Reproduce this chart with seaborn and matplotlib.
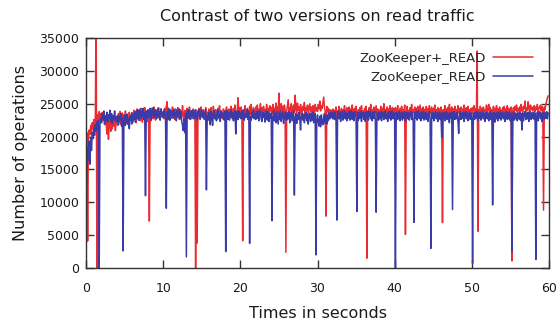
import numpy as np
import pandas as pd
import matplotlib
matplotlib.use('Agg')
import matplotlib.pyplot as plt
import seaborn as sns

# Leituras a cada 0,1 s (estimadas a partir da figura original)
PERIODO_AMOSTRA = 0.1

zk_plus_read = [
    19200, 20600, 4100, 19600, 21000, 20300, 21700, 20500, 22100, 21200, 22600, 21400, 22900, 40000, 0, 23300, 22000, 23800, 22400, 23500,
    22200, 23700, 22500, 23900, 21800, 23200, 22100, 20400, 22600, 19600, 21900, 22800, 20800, 22300, 21200, 23000, 21600, 22700, 20900, 22400,
    23100, 21700, 23500, 22200, 23800, 21900, 22900, 23600, 21500, 23300, 22400, 23900, 22000, 23400, 22700, 21800, 23700, 22500, 23200, 21900,
    23600, 22300, 24000, 22800, 23300, 22100, 24200, 23000, 22600, 23900, 22400, 24300, 23100, 22200, 23800, 22900, 24400, 22700, 23500, 22300,
    24100, 22900, 7150, 23600, 22400, 24300, 23100, 22700, 24500, 23300, 22500, 24000, 23700, 22800, 24400, 23000, 22600, 24200, 23400, 22900,
    23800, 22700, 24300, 23100, 24600, 25300, 22900, 23900, 22500, 24100, 23300, 22800, 24500, 23000, 23700, 22600, 24200, 23400, 22900, 24400,
    23200, 22600, 24100, 23500, 22900, 24700, 23300, 22700, 24000, 23600, 22500, 24300, 23100, 22800, 24500, 23400, 22700, 23900, 23200, 24200,
    22900, 24000, 0, 23400, 3800, 22800, 24300, 23100, 22600, 24500, 23500, 22900, 24100, 23300, 22700, 24400, 23000, 23700, 22500, 24200,
    23600, 22800, 24400, 23100, 22700, 24600, 23300, 22900, 24100, 23500, 22600, 24300, 23200, 24700, 22800, 23900, 23400, 22700, 24200, 23100,
    24000, 22900, 24500, 23300, 22800, 24200, 23700, 23000, 24600, 23400, 22700, 24300, 23100, 24800, 23500, 22900, 24100, 25900, 23600, 24400,
    23200, 24500, 23600, 4150, 24100, 22900, 24700, 23500, 23000, 24300, 23800, 22800, 24600, 23300, 24900, 23600, 23100, 24400, 23700, 23200,
    24500, 23400, 24800, 23100, 24200, 23700, 25000, 23300, 24400, 22900, 24600, 23800, 24100, 23300, 24900, 23600, 24300, 23000, 24700, 23900,
    24400, 23500, 24900, 23700, 24300, 23200, 25100, 23800, 24500, 23400, 26600, 24000, 23600, 25000, 23900, 24600, 23300, 24800, 24100, 2400,
    23800, 24700, 25600, 23600, 24400, 23900, 25000, 23500, 24300, 24800, 23700, 26300, 24200, 23600, 25100, 24000, 24500, 23400, 24900, 24100,
    23700, 24600, 24000, 25200, 23500, 24400, 23900, 24800, 23600, 24300, 25000, 23800, 24500, 23400, 24700, 24100, 23600, 24900, 23900, 24400,
    23800, 24900, 24200, 25400, 23900, 24700, 24300, 25100, 26000, 24400, 23900, 7900, 24600, 23800, 24300, 23400, 24100, 23200, 24000, 23500,
    24200, 22900, 24000, 23300, 24500, 22800, 23900, 23400, 24600, 23100, 23700, 24300, 22900, 24100, 23500, 24700, 23000, 23800, 24400, 23200,
    23600, 24500, 23000, 24200, 23300, 24800, 22900, 23900, 24300, 23100, 24600, 23500, 22800, 24100, 23700, 24400, 23000, 24700, 23400, 23900,
    23200, 24300, 23600, 24600, 1500, 23800, 23000, 24400, 23500, 24900, 22900, 24100, 23700, 24500, 23100, 23900, 24700, 23300, 24200, 22800,
    24000, 23400, 24600, 23100, 24300, 23700, 25000, 23200, 24100, 23600, 24500, 22900, 24200, 23800, 24700, 23300, 23900, 24400, 23000, 24300,
    23500, 24400, 23100, 24000, 24700, 23300, 23800, 24300, 23000, 24600, 23600, 24100, 23200, 24800, 5100, 23700, 24600, 23400, 24000, 23100,
    24400, 23600, 24900, 23200, 24100, 23700, 24500, 23000, 24300, 23800, 24600, 23300, 24000, 24800, 23400, 24200, 23100, 24500, 23700, 24100,
    23300, 24600, 23800, 24200, 23100, 24700, 23500, 24000, 24500, 23200, 24300, 23900, 24800, 23400, 24100, 23600, 24400, 23000, 24200, 23700,
    24500, 23500, 6900, 24100, 23400, 24700, 23800, 24200, 23100, 24400, 23600, 24900, 23300, 24000, 24500, 23700, 24200, 23200, 24600, 23800,
    24100, 23400, 24700, 23600, 24300, 23100, 24500, 23900, 24200, 23300, 24800, 23700, 24000, 24400, 23200, 24600, 23800, 24100, 23500, 24300,
    23600, 24400, 23900, 24700, 23300, 24200, 23800, 33000, 5600, 24100, 23500, 24600, 23800, 24300, 23200, 24500, 23900, 24100, 23400, 24800,
    23700, 24200, 24900, 23500, 24400, 23800, 24100, 23300, 24600, 23900, 24300, 23400, 24700, 23700, 24200, 23200, 24500, 23900, 24000, 23600,
    24400, 23800, 24600, 23500, 24200, 23900, 24700, 23400, 24300, 24000, 23600, 24500, 1100, 23800, 24400, 23300, 24600, 24000, 24800, 23700,
    24300, 23900, 24500, 23600, 24900, 24100, 23700, 24600, 24200, 25400, 23800, 24400, 24000, 25300, 24300, 23700, 24800, 24100, 24500, 23900,
    24200, 24700, 23800, 24500, 24100, 24900, 23700, 24400, 24300, 24800, 23900, 24600, 24200, 8800, 24500, 24100, 24900, 25400, 25900, 26200,
]

zk_read = [
    700, 15200, 18300, 16400, 19300, 15800, 19900, 17900, 20600, 19700, 21300, 20200, 21800, 20800, 22200, 21100, 22500, 0, 21900, 22800,
    22100, 23400, 22600, 23800, 21900, 23100, 22400, 23700, 22200, 23300, 22800, 24000, 22300, 23500, 22000, 23200, 22700, 23900, 22400, 23000,
    22300, 23200, 21800, 23000, 22600, 23500, 21600, 22900, 2600, 22200, 23300, 21700, 22800, 23400, 21900, 22700, 21200, 23100, 22500, 23600,
    22000, 23300, 22600, 23700, 22200, 23900, 22800, 24100, 22500, 23400, 24200, 22700, 23800, 23100, 24300, 22600, 23600, 11000, 23900, 22900,
    24000, 22800, 23700, 24300, 22600, 23900, 23200, 24400, 22900, 23600, 24100, 22700, 23500, 24300, 23000, 23800, 22500, 24200, 23300, 23700,
    22900, 24100, 23400, 22700, 9100, 23800, 22600, 24300, 23200, 22500, 24000, 23300, 23800, 22800, 24200, 23100, 23600, 22400, 24100, 23500,
    23000, 24200, 22700, 23800, 22300, 21700, 20900, 22600, 20600, 23500, 1700, 23900, 22800, 24100, 23200, 22600, 23900, 23100, 24000, 22700,
    23700, 22800, 24100, 23000, 22500, 23900, 23300, 24200, 22700, 23500, 24000, 22900, 23800, 22600, 23400, 24100, 11900, 23200, 22500, 23700,
    23400, 21800, 23900, 22900, 21700, 23600, 24000, 22700, 23300, 22400, 23800, 24100, 22800, 23500, 22300, 23900, 22900, 23600, 23200, 22500,
    23800, 2500, 23000, 24000, 22600, 23700, 22500, 23300, 24100, 22800, 23600, 22400, 23500, 23900, 20400, 23100, 23800, 22600, 23900, 22900,
    23600, 22700, 23900, 22800, 24000, 22500, 23400, 22900, 23700, 24100, 22600, 23800, 3750, 23000, 22500, 23700, 22900, 24000, 22700, 23500,
    22600, 23800, 22800, 23900, 22400, 23500, 24000, 22700, 22300, 23700, 22900, 23600, 22200, 23900, 23000, 22500, 23800, 22300, 23500, 22800,
    23600, 7200, 22900, 23900, 22400, 23500, 22100, 23800, 22800, 21900, 23600, 22600, 23900, 22300, 23400, 23800, 22000, 23500, 22700, 23700,
    22500, 23600, 22700, 23800, 22100, 23400, 23700, 22400, 23200, 23900, 11100, 22800, 23500, 22000, 23400, 22600, 23700, 22800, 21000, 23300,
    23600, 22500, 23400, 22100, 23300, 23700, 22400, 23500, 21900, 23200, 23600, 22300, 23400, 22500, 23700, 22100, 23200, 23500, 2000, 22600,
    23300, 22200, 21600, 23100, 21500, 23300, 22100, 21800, 22900, 23500, 22000, 23200, 21900, 23300, 22400, 23600, 22700, 23700, 22900, 23600,
    22700, 23800, 22600, 23700, 22400, 7300, 23500, 23900, 22700, 23700, 22300, 23500, 23800, 22500, 23400, 23900, 22700, 23600, 22400, 23500,
    22800, 23800, 22500, 23600, 23900, 22600, 23700, 22400, 23500, 23800, 22700, 8600, 23600, 22500, 23700, 22800, 23800, 22300, 23500, 23700,
    22600, 23600, 22300, 23700, 22800, 23900, 22500, 23400, 23900, 22700, 23600, 22400, 23700, 22800, 23800, 22500, 8500, 23400, 23700, 22500,
    23600, 22700, 23800, 22400, 23500, 23700, 22600, 23600, 23900, 22700, 23400, 22300, 23700, 22800, 23800, 22500, 23500, 23900, 22700, 23600,
    22800, 0, 23700, 22600, 23600, 22700, 23800, 22400, 23500, 23700, 22500, 23600, 22800, 23800, 22300, 23500, 23700, 22700, 23600, 22500,
    23500, 23800, 22600, 23600, 22400, 6950, 23700, 22800, 23800, 22500, 23500, 23900, 22700, 23600, 22400, 23700, 22800, 23800, 22500, 23500,
    23700, 22600, 23600, 22300, 23500, 23800, 22500, 3000, 23600, 22800, 23700, 22400, 23500, 23800, 22700, 23600, 22300, 23400, 23700, 22600,
    23500, 19900, 23700, 22700, 23600, 22400, 23500, 23800, 22600, 23600, 22700, 22100, 23600, 22800, 23700, 8900, 23500, 23800, 22600, 23600,
    22700, 23700, 22500, 20500, 23500, 23800, 22600, 23600, 22800, 23700, 22300, 23500, 23800, 22700, 23600, 22400, 23500, 23700, 22600, 23600,
    22800, 700, 23600, 22600, 23700, 22700, 23500, 23800, 22400, 23600, 22800, 23700, 22500, 23500, 23800, 22700, 23600, 22300, 23500, 23700,
    22700, 23600, 22400, 23500, 23800, 22600, 23600, 9600, 22800, 23700, 22200, 23500, 22700, 23700, 22400, 23600, 22800, 23800, 22500, 23500,
    23700, 22700, 23600, 22300, 23500, 23800, 22600, 23600, 22700, 23700, 22400, 23500, 2500, 22800, 23700, 22500, 23600, 22700, 23500, 22400,
    23600, 22700, 23700, 22500, 23500, 21000, 23600, 22400, 23500, 23800, 22600, 23600, 22700, 23700, 22300, 23500, 23800, 22600, 23600, 22800,
    23700, 22600, 23600, 1300, 22800, 23700, 22400, 23500, 23800, 22700, 23600, 22300, 23500, 23700, 22600, 23600, 22800, 23800, 22700, 23600,
]

assert len(zk_plus_read) == 600 and len(zk_read) == 600

versoes = ['ZooKeeper+_READ', 'ZooKeeper_READ']
cores = {'ZooKeeper+_READ': '#ea2c30', 'ZooKeeper_READ': '#3a3aa8'}

# Monta tabela longa para o seaborn
tabelas = []
for nome, valores in zip(versoes, [zk_plus_read, zk_read]):
    tabelas.append(pd.DataFrame({
        'tempo': np.arange(len(valores)) * PERIODO_AMOSTRA,
        'operacoes': valores,
        'versao': nome,
    }))
df = pd.concat(tabelas, ignore_index=True)

sns.set_theme(style='ticks')
plt.rcParams['font.family'] = ['DejaVu Sans']

fig = plt.figure(figsize=(5.59, 3.33), dpi=100)
ax = fig.add_axes([0.154, 0.195, 0.828, 0.691])

sns.lineplot(data=df, x='tempo', y='operacoes', hue='versao', hue_order=versoes,
             palette=cores, estimator=None, errorbar=None, sort=False,
             linewidth=1.1, ax=ax)

ax.set_xlim(0, 60)
ax.set_ylim(0, 35000)
ax.set_xticks(range(0, 61, 10))
ax.set_yticks(range(0, 35001, 5000))

ax.tick_params(direction='in', length=6, width=1, top=True, right=True,
               labelsize=9, colors='#333333', labelcolor='#1a1a1a')
ax.tick_params(axis='x', pad=10)
ax.tick_params(axis='y', pad=5)
for lado in ax.spines.values():
    lado.set_color('#333333')
    lado.set_linewidth(1)

ax.set_title('Contrast of two versions on read traffic', fontsize=11.5, pad=12, color='#1a1a1a')
ax.set_xlabel('Times in seconds', fontsize=11.5, labelpad=8, color='#1a1a1a')
ax.set_ylabel('Number of operations', fontsize=11.5, labelpad=8, color='#1a1a1a')

ax.legend(title=None, loc='upper right', frameon=False, markerfirst=False,
          fontsize=9.5, handlelength=3.0, handletextpad=0.6, labelspacing=0.45,
          borderaxespad=0.3, bbox_to_anchor=(0.985, 0.98))

fig.savefig('out.png', dpi=100)
